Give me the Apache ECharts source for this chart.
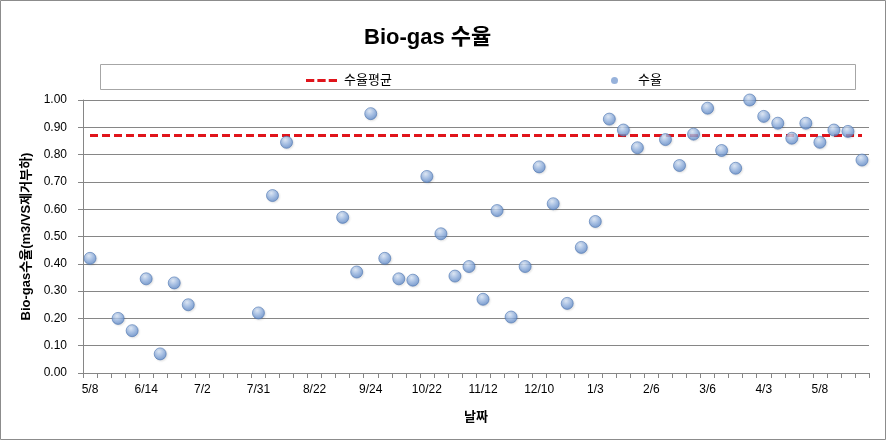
<!DOCTYPE html>
<html>
<head>
<meta charset="utf-8">
<script src="https://cdn.jsdelivr.net/npm/echarts@6/dist/echarts.min.js"></script>
<style>
html,body{margin:0;padding:0;background:#fff;}
#c{width:887px;height:441px;}
</style>
</head>
<body>
<div id="c"></div>
<script>
// category dates (only every 4th is labelled in the original; others estimated)
var dates = [
  '5/8','5/17','5/26','6/5','6/14','6/18','6/23','6/27',
  '7/2','7/9','7/16','7/23','7/31','8/5','8/11','8/16',
  '8/22','8/30','9/8','9/16','9/24','10/1','10/8','10/15',
  '10/22','10/27','11/1','11/7','11/12','11/19','11/26','12/3',
  '12/10','12/16','12/22','12/28','1/3','1/12','1/20','1/29',
  '2/6','2/13','2/20','2/27','3/6','3/13','3/20','3/27',
  '4/3','4/12','4/21','4/30','5/8 ','5/15','5/22','5/29'
];
// 수율 values (null = no measurement)
var yieldValues = [
  0.42, null, 0.20, 0.155, 0.345, 0.07, 0.33, 0.25,
  null, null, null, null, 0.22, 0.65, 0.845, null,
  null, null, 0.57, 0.37, 0.95, 0.42, 0.345, 0.34,
  0.72, 0.51, 0.355, 0.39, 0.27, 0.595, 0.205, 0.39,
  0.755, 0.62, 0.255, 0.46, 0.555, 0.93, 0.89, 0.825,
  null, 0.855, 0.76, 0.875, 0.97, 0.815, 0.75, 1.00,
  0.94, 0.915, 0.86, 0.915, 0.845, 0.89, 0.885, 0.78
];
// 수율평균 (average)
var yieldAverage = 0.87;
var yTicks = { min: 0, max: 1, interval: 0.1 };

var chart = echarts.init(document.getElementById('c'), null, {renderer: 'canvas'});
var fontFam = "'Liberation Sans', Arial, 'Noto Sans CJK KR', sans-serif";
var bubble = {
  type: 'radial', x: 0.4, y: 0.3, r: 0.8,
  colorStops: [
    {offset: 0, color: '#dbe7f7'},
    {offset: 0.45, color: '#96b5e2'},
    {offset: 1, color: '#4d7abd'}
  ]
};
var option = {
  animation: false,
  backgroundColor: '#ffffff',
  textStyle: {fontFamily: fontFam},
  title: {
    text: 'Bio-gas 수율',
    left: 359, top: 22,
    textStyle: {fontSize: 22, fontWeight: 'bold', color: '#000', fontFamily: fontFam}
  },
  graphic: [
    {type: 'rect', shape: {x: 0.5, y: 0.5, width: 885, height: 439}, style: {fill: null, stroke: '#8c8c8c', lineWidth: 1}, silent: true},
    {type: 'rect', shape: {x: 100.5, y: 64.5, width: 755, height: 25}, style: {fill: null, stroke: '#a6a6a6', lineWidth: 1}, silent: true}
  ],
  legend: [
    {
      data: [{name: '수율평균', icon: 'path://M0,0h8v3h-8z M11,0h8v3h-8z M22,0h8v3h-8z'}],
      left: 301, top: 69, itemWidth: 31, itemHeight: 4, itemGap: 6,
      textStyle: {fontSize: 13, color: '#000', fontFamily: fontFam, padding: [0,0,0,2]}
    },
    {
      data: [{name: '수율', icon: 'circle'}], left: 606, top: 69, itemWidth: 7, itemHeight: 8, itemGap: 6,
      itemStyle: {color: '#7d9fd2', borderWidth: 0},
      textStyle: {fontSize: 13, color: '#000', fontFamily: fontFam, padding: [0,0,0,15]}
    }
  ],
  grid: {left: 83, right: 18, top: 100, bottom: 68, containLabel: false},
  xAxis: {
    type: 'category',
    data: dates,
    boundaryGap: true,
    name: '날짜',
    nameLocation: 'middle',
    nameGap: 38,
    nameTextStyle: {fontSize: 13, fontWeight: 'bold', color: '#000'},
    axisLine: {lineStyle: {color: '#868686', width: 1}},
    axisTick: {show: true, interval: 0, length: 5, lineStyle: {color: '#868686'}},
    axisLabel: {interval: 3, fontSize: 12, color: '#000', margin: 11,
      formatter: function (v) { return v.trim(); }},
    splitLine: {show: false}
  },
  yAxis: {
    type: 'value',
    min: yTicks.min, max: yTicks.max, interval: yTicks.interval,
    name: 'Bio-gas수율(m3/VS제거부하)',
    nameLocation: 'middle',
    nameGap: 49,
    nameTextStyle: {fontSize: 13, fontWeight: 'bold', color: '#000'},
    axisLine: {show: true, lineStyle: {color: '#868686'}},
    axisTick: {show: true, length: 5, lineStyle: {color: '#868686'}},
    axisLabel: {fontSize: 12, color: '#000', margin: 16,
      formatter: function (v) { return v.toFixed(2); }},
    splitLine: {show: true, lineStyle: {color: '#868686', width: 1}}
  },
  series: [
    {
      name: '수율평균',
      type: 'line',
      data: dates.map(function () { return yieldAverage; }),
      symbol: 'none',
      lineStyle: {color: '#e0141b', width: 3, type: [8, 4]},
      itemStyle: {color: '#e0141b'},
      z: 2
    },
    {
      name: '수율',
      type: 'scatter',
      data: yieldValues.map(function (v) { return v === null ? '-' : v; }),
      symbol: 'circle',
      symbolSize: 12,
      itemStyle: {color: bubble, borderColor: '#4f78b3', borderWidth: 0.8,
        shadowColor: 'rgba(0,0,0,0.12)', shadowBlur: 2, shadowOffsetX: 1, shadowOffsetY: 1},
      z: 3
    }
  ]
};
chart.setOption(option);
</script>
</body>
</html>
